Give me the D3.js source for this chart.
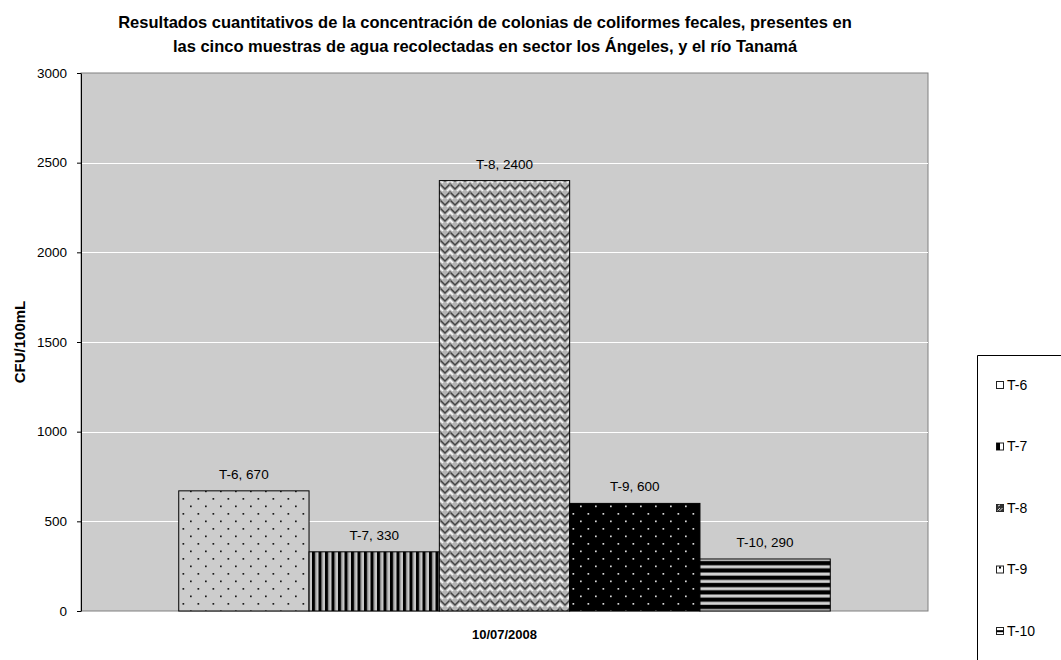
<!DOCTYPE html>
<html>
<head>
<meta charset="utf-8">
<script src="https://cdn.jsdelivr.net/npm/d3@7/dist/d3.min.js"></script>
<style>
  html, body { margin: 0; padding: 0; background: #ffffff; }
  svg { display: block; font-family: "Liberation Sans", Arial, sans-serif; }
</style>
</head>
<body>
<svg id="chart" width="1061" height="660"></svg>
<script>
// Fecal coliform counts per sample point, single sampling date
const category = "10/07/2008";
const seriesNames = ["T-6", "T-7", "T-8", "T-9", "T-10"];
const seriesValues = [670, 330, 2400, 600, 290];
const yTicks = [0, 500, 1000, 1500, 2000, 2500, 3000];
const titleLines = [
  "Resultados cuantitativos de la concentración de colonias de coliformes fecales, presentes en",
  "las cinco muestras de agua recolectadas en sector los Ángeles, y el río Tanamá"
];
const yTitle = "CFU/100mL";

const data = seriesNames.map((name, i) => ({ name, value: seriesValues[i] }));

const svg = d3.select("#chart");
const plot = { left: 81, top: 73, right: 928, bottom: 611 };

// ---------- hatch fills ----------
const defs = svg.append("defs");

function dotted(id, bg, dot) {
  const p = defs.append("pattern").attr("id", id)
    .attr("patternUnits", "userSpaceOnUse").attr("width", 15).attr("height", 15);
  p.append("rect").attr("width", 15).attr("height", 15).attr("fill", bg);
  p.append("rect").attr("x", 2.5).attr("y", 3).attr("width", 1.7).attr("height", 1.7).attr("fill", dot);
  p.append("rect").attr("x", 10).attr("y", 10.5).attr("width", 1.7).attr("height", 1.7).attr("fill", dot);
}
dotted("fill-T-6", "#cccccc", "#1a1a1a");
dotted("fill-T-9", "#000000", "#d8d8d8");

{ // vertical stripes
  const p = defs.append("pattern").attr("id", "fill-T-7")
    .attr("patternUnits", "userSpaceOnUse").attr("width", 6.5).attr("height", 10);
  p.append("rect").attr("width", 6.5).attr("height", 10).attr("fill", "#c8c8c8");
  p.append("rect").attr("x", 0).attr("width", 3.2).attr("height", 10).attr("fill", "#000000");
  p.append("rect").attr("x", 3.2).attr("width", 1).attr("height", 10).attr("fill", "#8a8a8a");
}
{ // horizontal stripes
  const p = defs.append("pattern").attr("id", "fill-T-10")
    .attr("patternUnits", "userSpaceOnUse").attr("width", 10).attr("height", 7.3);
  p.append("rect").attr("width", 10).attr("height", 7.3).attr("fill", "#000000");
  p.append("rect").attr("y", 3.0).attr("width", 10).attr("height", 3.4).attr("fill", "#909090");
  p.append("rect").attr("y", 3.6).attr("width", 10).attr("height", 2.2).attr("fill", "#d4d4d4");
}
{ // woven zigzag
  const p = defs.append("pattern").attr("id", "fill-T-8")
    .attr("patternUnits", "userSpaceOnUse").attr("width", 10).attr("height", 8);
  p.append("rect").attr("width", 10).attr("height", 8).attr("fill", "#b4b4b4");
  p.append("path").attr("d", "M-1,-1 L5,5 L11,-1 M-1,7 L1,9 M9,9 L11,7")
    .attr("fill", "none").attr("stroke", "#444444").attr("stroke-width", 1.5);
  p.append("path").attr("d", "M-1,3 L3,7 M7,7 L11,3 M0,-1 L1,0 M9,0 L10,-1")
    .attr("fill", "none").attr("stroke", "#f4f4f4").attr("stroke-width", 1.7);
}

// ---------- scales ----------
const y = d3.scaleLinear().domain([0, 3000]).range([plot.bottom, plot.top]);
const catWidth = plot.right - plot.left;
const barW = catWidth / (seriesNames.length + 1.5);
const x = d3.scaleBand().domain(seriesNames)
  .range([plot.left + 0.75 * barW, plot.right - 0.75 * barW]).padding(0);

// ---------- plot area ----------
svg.append("rect")
  .attr("x", plot.left).attr("y", plot.top)
  .attr("width", plot.right - plot.left).attr("height", plot.bottom - plot.top)
  .attr("fill", "#cccccc").attr("stroke", "#808080").attr("stroke-width", 1);

svg.append("g").selectAll("line")
  .data(yTicks.filter(t => t > 0 && t < 3000))
  .join("line")
  .attr("x1", plot.left).attr("x2", plot.right)
  .attr("y1", d => Math.round(y(d)) + 0.5).attr("y2", d => Math.round(y(d)) + 0.5)
  .attr("stroke", "#ffffff").attr("stroke-width", 1);

// ---------- bars ----------
svg.append("g").selectAll("rect")
  .data(data)
  .join("rect")
  .attr("x", d => x(d.name))
  .attr("y", d => y(d.value))
  .attr("width", x.bandwidth())
  .attr("height", d => y(0) - y(d.value))
  .attr("fill", d => `url(#fill-${d.name})`)
  .attr("stroke", "#000000").attr("stroke-width", 1);

svg.append("g").selectAll("text")
  .data(data)
  .join("text")
  .attr("x", d => x(d.name) + x.bandwidth() / 2)
  .attr("y", d => y(d.value) - 12)
  .attr("text-anchor", "middle")
  .attr("font-size", 13.5).attr("fill", "#000")
  .text(d => `${d.name}, ${d.value}`);

// ---------- y axis ----------
const yAxis = svg.append("g")
  .attr("transform", `translate(${plot.left},0)`)
  .call(d3.axisLeft(y).tickValues(yTicks).tickFormat(d3.format("d"))
    .tickSize(4).tickPadding(10).tickSizeOuter(0));
yAxis.select(".domain").attr("stroke", "#000");
yAxis.selectAll(".tick line").attr("stroke", "#000");
yAxis.selectAll(".tick text")
  .attr("font-size", 13.5).attr("fill", "#000")
  .attr("font-family", "'Liberation Sans', Arial, sans-serif");

svg.append("text")
  .attr("transform", `translate(25,${(plot.top + plot.bottom) / 2}) rotate(-90)`)
  .attr("text-anchor", "middle").attr("font-weight", "bold").attr("font-size", 15)
  .text(yTitle);

// ---------- category label ----------
svg.append("text")
  .attr("x", (plot.left + plot.right) / 2).attr("y", 639)
  .attr("text-anchor", "middle").attr("font-weight", "bold").attr("font-size", 13)
  .text(category);

// ---------- title ----------
svg.append("g").selectAll("text")
  .data(titleLines)
  .join("text")
  .attr("x", 485).attr("y", (d, i) => 28 + i * 24)
  .attr("text-anchor", "middle").attr("font-weight", "bold").attr("font-size", 16.5)
  .text(d => d);

// ---------- legend ----------
const legend = svg.append("g");
legend.append("path")
  .attr("d", "M977.5,665 V355.5 H1065")
  .attr("fill", "none").attr("stroke", "#000").attr("stroke-width", 1);

const legendY = d3.scalePoint().domain(seriesNames).range([385, 631]);
const items = legend.selectAll("g.item")
  .data(data)
  .join("g").attr("class", "item")
  .attr("transform", d => `translate(996,${legendY(d.name)})`);

// small swatches
items.append("rect")
  .attr("x", 0.5).attr("y", -3.5).attr("width", 7).attr("height", 7)
  .attr("fill", "#ffffff").attr("stroke", "#222").attr("stroke-width", 1);
items.filter(d => d.name === "T-7").append("rect")
  .attr("x", 0.5).attr("y", -3.5).attr("width", 3.5).attr("height", 7).attr("fill", "#000");
items.filter(d => d.name === "T-8").append("rect")
  .attr("x", 0.5).attr("y", -3.5).attr("width", 7).attr("height", 7).attr("fill", "#333");
items.filter(d => d.name === "T-8").append("path")
  .attr("d", "M1.5,2.5 L4,0 M3.5,3 L6.5,0 M2,-2 L4,-3")
  .attr("stroke", "#ddd").attr("stroke-width", 1).attr("fill", "none");
items.filter(d => d.name === "T-9").append("rect")
  .attr("x", 3).attr("y", -3).attr("width", 2).attr("height", 2).attr("fill", "#000");
items.filter(d => d.name === "T-10").append("rect")
  .attr("x", 0.5).attr("y", -0.8).attr("width", 7).attr("height", 2).attr("fill", "#000");

items.append("text")
  .attr("x", 11).attr("y", 0).attr("dy", "0.35em")
  .attr("font-size", 14).attr("fill", "#000")
  .text(d => d.name);
</script>
</body>
</html>
